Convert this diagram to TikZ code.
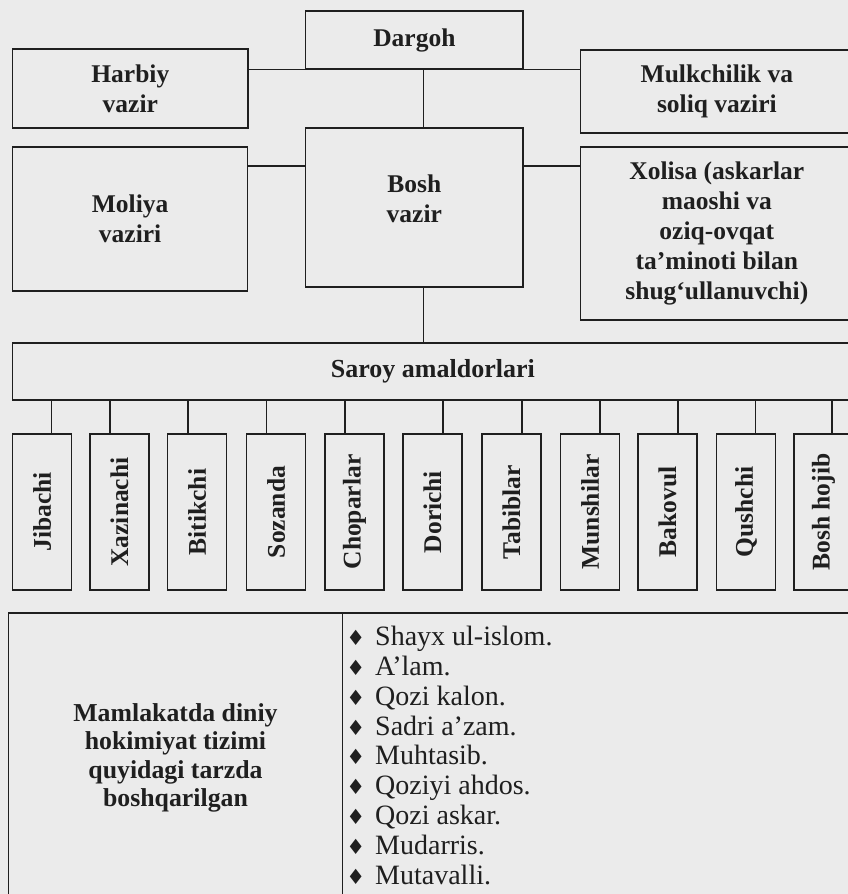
\documentclass[tikz,border=0pt]{standalone}
\usepackage{fontspec}
\setmainfont{Liberation Serif}
\newfontfamily\symfont{DejaVu Sans}

\definecolor{paper}{HTML}{EBEBEB}
\definecolor{ink}{HTML}{1F1F1F}

\newcommand{\boxfont}{\fontsize{25.5}{30}\selectfont\bfseries}
\newcommand{\dinfont}{\fontsize{25.8}{28.5}\selectfont\bfseries}
\newcommand{\listfont}{\fontsize{28}{29.8}\selectfont}
\newcommand{\dmd}{\llap{{\symfont\fontsize{21}{21}\selectfont ♦}\hspace{10pt}}}

\begin{document}
\begin{tikzpicture}[x=1pt,y=-1pt]

      \useasboundingbox (0,0) rectangle (848,894);
      \clip (0,0) rectangle (848,894);
      \fill[paper] (0,0) rectangle (848,894);

      \begin{scope}[every node/.style={draw=ink,line width=1.2pt,text=ink,font=\boxfont,align=center,inner sep=0pt}]
        \node[minimum width=217.3,minimum height=58]  (dargoh) at (414.35,40)   {Dargoh};
        \node[minimum width=235.3,minimum height=79]  (harbiy) at (130.35,88.5) {Harbiy\\vazir};
        \node[minimum width=272.3,minimum height=83]  (mulk)   at (716.85,91.5) {Mulkchilik va\\soliq vaziri};
        \node[minimum width=234.8,minimum height=144] (moliya) at (130.1,219)   {Moliya\\vaziri};
        \node[minimum width=217.3,minimum height=159] (bosh)   at (414.35,207.5) {};
        \node[minimum width=272.3,minimum height=173] (xolisa) at (716.85,233.5)
          {Xolisa (askarlar\\maoshi va\\oziq-ovqat\\ta’minoti bilan\\shug‘ullanuvchi)};
        \node[minimum width=840.3,minimum height=57]  (saroy)  at (432.85,371.5) {\fontsize{26}{30}\selectfont Saroy amaldorlari};
      \end{scope}

      \node[text=ink,font=\boxfont,align=center] at ([yshift=9pt]bosh.center) {Bosh\\vazir};

      \begin{scope}[every node/.style={draw=ink,line width=1.2pt,text=ink,font=\boxfont,inner sep=0pt,
          minimum width=59,minimum height=156}]
        \node (jib)  at (42.2,512)  {\rotatebox{90}{Jibachi}};
        \node (xaz)  at (119.5,512) {\rotatebox{90}{Xazinachi}};
        \node (bit)  at (197.2,512) {\rotatebox{90}{Bitikchi}};
        \node (soz)  at (276.2,512) {\rotatebox{90}{Sozanda}};
        \node (chop) at (354.5,512) {\rotatebox{90}{Choparlar}};
        \node (dor)  at (432.5,512) {\rotatebox{90}{Dorichi}};
        \node (tab)  at (511.5,512) {\rotatebox{90}{Tabiblar}};
        \node (mun)  at (590.2,512) {\rotatebox{90}{Munshilar}};
        \node (bak)  at (667.5,512) {\rotatebox{90}{Bakovul}};
        \node (qush) at (746.2,512) {\rotatebox{90}{Qushchi}};
        \node (hoj)  at (823.5,512) {\rotatebox{90}{Bosh hojib}};
      \end{scope}

      \begin{scope}[every node/.style={draw=ink,line width=1.2pt,text=ink,inner sep=0pt,minimum height=290}]
        \node[font=\dinfont,align=center,minimum width=334.4] (din) at (175.5,758)
          {Mamlakatda diniy\\hokimiyat tizimi\\quyidagi tarzda\\boshqarilgan};
        \node[minimum width=522] (dinlar) at (603.7,758) {};
      \end{scope}

      \node[anchor=north west,align=left,font=\listfont,text=ink,inner sep=0pt] (ruhoniy) at (375,626)
        {\dmd Shayx ul-islom.\\\dmd A’lam.\\\dmd Qozi kalon.\\\dmd Sadri a’zam.\\\dmd Muhtasib.\\
         \dmd Qoziyi ahdos.\\\dmd Qozi askar.\\\dmd Mudarris.\\\dmd Mutavalli.};

      \begin{scope}[draw=ink,line width=1.2pt]
        \coordinate (mid) at (0,166);
        \draw (harbiy.east |- dargoh.south) -- (mulk.west |- dargoh.south);
        \draw ([xshift=9pt]dargoh.south) -- ([xshift=9pt]bosh.north);
        \draw (moliya.east |- mid) -- (bosh.west |- mid);
        \draw (bosh.east |- mid) -- (xolisa.west |- mid);
        \draw ([xshift=9pt]bosh.south) -- ([xshift=9pt]bosh.south |- saroy.north);
        \draw ([xshift=9.5pt]jib.north)  -- ([xshift=9.5pt]jib.north |- saroy.south);
        \draw ([xshift=-9.5pt]xaz.north) -- ([xshift=-9.5pt]xaz.north |- saroy.south);
        \draw ([xshift=-9.2pt]bit.north) -- ([xshift=-9.2pt]bit.north |- saroy.south);
        \draw ([xshift=-9.5pt]soz.north) -- ([xshift=-9.5pt]soz.north |- saroy.south);
        \draw ([xshift=-9.5pt]chop.north) -- ([xshift=-9.5pt]chop.north |- saroy.south);
        \draw ([xshift=10.5pt]dor.north) -- ([xshift=10.5pt]dor.north |- saroy.south);
        \draw ([xshift=10.5pt]tab.north) -- ([xshift=10.5pt]tab.north |- saroy.south);
        \draw ([xshift=9.8pt]mun.north)  -- ([xshift=9.8pt]mun.north |- saroy.south);
        \draw ([xshift=10.5pt]bak.north) -- ([xshift=10.5pt]bak.north |- saroy.south);
        \draw ([xshift=9.5pt]qush.north) -- ([xshift=9.5pt]qush.north |- saroy.south);
        \draw ([xshift=8.5pt]hoj.north)  -- ([xshift=8.5pt]hoj.north |- saroy.south);
      \end{scope}

    \end{tikzpicture}
\end{document}
